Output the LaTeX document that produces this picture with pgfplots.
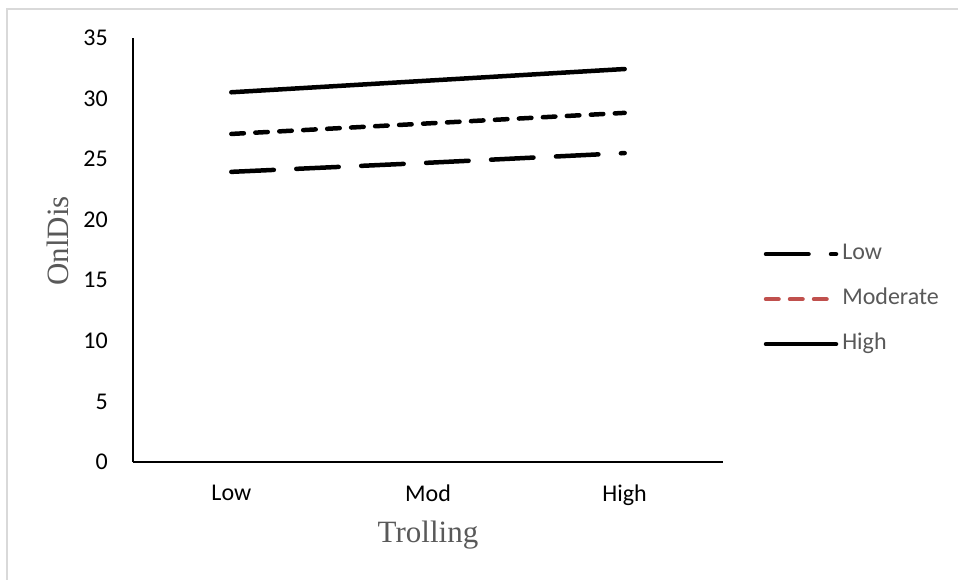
\documentclass[border=0pt]{standalone}
\usepackage{pgfplots}
\pgfplotsset{compat=1.18}
\usepackage{fontspec}
\setmainfont{Liberation Serif}
\newfontfamily\carlito{Carlito}
\definecolor{framegray}{HTML}{D9D9D9}
\definecolor{labgray}{HTML}{595959}
\definecolor{modred}{HTML}{C0504D}
\begin{document}
\begin{tikzpicture}
\path[use as bounding box] (0,0) rectangle (958bp,580bp);
\draw[framegray, line width=2bp] (7bp,-5bp) -- (7bp,571bp) -- (965bp,571bp);
\begin{axis}[
  at={(133bp,118bp)}, anchor=south west,
  scale only axis, width=590bp, height=424bp,
  xmin=-0.5, xmax=2.5, ymin=0, ymax=35,
  axis lines=left,
  axis line style={-, black, line width=1.3bp},
  xtick={0,1,2}, xticklabels={Low,Mod,High},
  ytick={0,5,10,15,20,25,30,35},
  major tick length=0pt,
  /pgf/number format/assume math mode=true,
  ticklabel style={font=\carlito\fontsize{24bp}{28bp}\selectfont, text=black},
  yticklabel style={inner sep=0pt, anchor=east, xshift=-25bp},
  xticklabel style={inner sep=0pt, anchor=north, yshift=-23bp},
  xlabel={Trolling}, ylabel={OnlDis},
  label style={font=\fontsize{31bp}{35bp}\selectfont, text=labgray},
  xlabel style={at={(rel axis cs:0.5,-0.191)}, anchor=base, inner sep=0pt},
  ylabel style={at={(rel axis cs:-0.1275,0.521)}, anchor=center, inner sep=0pt},
  clip=false,
  legend image code/.code={\draw[#1] (0bp,0bp) -- (70bp,0bp);},
  legend style={draw=none, fill=none, inner sep=0pt, outer sep=0pt,
    at={(rel axis cs:1.0691,0.384)}, anchor=west,
    font=\carlito\fontsize{24bp}{28bp}\selectfont, text=labgray,
    row sep=24bp,
    nodes={inner sep=0pt, text height=16bp, text depth=5bp},
    /tikz/every odd column/.append style={column sep=4bp}},
  legend cell align=left,
]
\addlegendimage{black, line width=4.5bp, line cap=round, dash pattern=on 42.5bp off 22.5bp}
\addlegendentry{Low}
\addlegendimage{modred, line width=4.5bp, line cap=round, dash pattern=on 12.5bp off 11.5bp}
\addlegendentry{Moderate}
\addlegendimage{black, line width=4.5bp, line cap=round}
\addlegendentry{High}
\addplot[forget plot, black, line width=4.5bp, line cap=round, dash pattern=on 42.5bp off 22.5bp]
  coordinates {(0,23.95) (1,24.7) (2,25.5)};
\addplot[forget plot, black, line width=4.5bp, line cap=round, dash pattern=on 12.5bp off 11.5bp]
  coordinates {(0,27.08) (1,27.95) (2,28.82)};
\addplot[forget plot, black, line width=4.5bp, line cap=round]
  coordinates {(0,30.52) (1,31.48) (2,32.44)};
\end{axis}
\end{tikzpicture}
\end{document}
